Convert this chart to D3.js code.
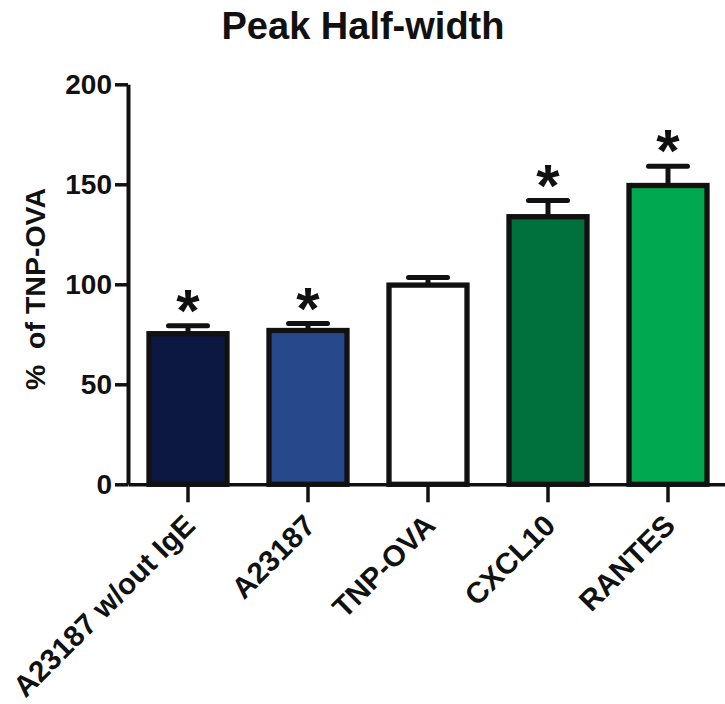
<!DOCTYPE html>
<html>
<head>
<meta charset="utf-8">
<script src="https://cdn.jsdelivr.net/npm/d3@7"></script>
<style>
  html, body { margin: 0; padding: 0; background: #fff; }
  text { font-family: "Liberation Sans", Arial, sans-serif; font-weight: bold; fill: #111; }
</style>
</head>
<body>
<div id="chart"></div>
<script>
const WIDTH = 725
const HEIGHT = 704
const X0 = 128
const X1 = 728
const Y_TOP = 84.3
const Y_BOTTOM = 484.3
const INK = '#111'

const categories = ['A23187 w/out IgE', 'A23187', 'TNP-OVA', 'CXCL10', 'RANTES']
const means = [75.3, 76.9, 99.6, 133.8, 149.4]
const sems = [4.0, 3.5, 3.8, 8.1, 9.6]
const significant = [true, true, false, true, true]
const barColors = ['#0c1742', '#28488c', '#ffffff', '#00703c', '#00a84f']
const yTicks = [0, 50, 100, 150, 200]

const svg = d3.select('#chart').append('svg')
  .attr('width', WIDTH)
  .attr('height', HEIGHT)

const x = d3.scaleBand()
  .domain(categories)
  .range([X0, X1])
  .paddingInner(0.35)
  .paddingOuter(0.175)

const y = d3.scaleLinear()
  .domain([0, 200])
  .range([Y_BOTTOM, Y_TOP])

const rows = categories.map((c, i) => ({
  name: c, mean: means[i], sem: sems[i], star: significant[i], color: barColors[i]
}))

// title
svg.append('text')
  .attr('x', 363)
  .attr('y', 39)
  .attr('text-anchor', 'middle')
  .attr('font-size', '38px')
  .text('Peak Half-width')

// bars
svg.append('g').selectAll('rect')
  .data(rows)
  .enter()
  .append('rect')
  .attr('x', d => x(d.name))
  .attr('y', d => y(d.mean))
  .attr('width', x.bandwidth())
  .attr('height', d => y(0) - y(d.mean))
  .attr('fill', d => d.color)
  .attr('stroke', INK)
  .attr('stroke-width', 5.3)

// error bars (upper only)
const err = svg.append('g')
  .attr('stroke', INK)
  .attr('stroke-width', 5)
  .attr('stroke-linecap', 'round')

err.selectAll('.stem')
  .data(rows)
  .enter()
  .append('line')
  .attr('x1', d => x(d.name) + x.bandwidth() / 2)
  .attr('x2', d => x(d.name) + x.bandwidth() / 2)
  .attr('y1', d => y(d.mean))
  .attr('y2', d => y(d.mean + d.sem))
  .attr('stroke-linecap', 'butt')

err.selectAll('.cap')
  .data(rows)
  .enter()
  .append('line')
  .attr('x1', d => x(d.name) + x.bandwidth() / 2 - 19.5)
  .attr('x2', d => x(d.name) + x.bandwidth() / 2 + 19.5)
  .attr('y1', d => y(d.mean + d.sem))
  .attr('y2', d => y(d.mean + d.sem))

// asterisks
svg.append('g').selectAll('text')
  .data(rows.filter(d => d.star))
  .enter()
  .append('text')
  .attr('x', d => x(d.name) + x.bandwidth() / 2)
  .attr('y', d => y(d.mean + d.sem) + 5)
  .attr('text-anchor', 'middle')
  .attr('font-size', '60px')
  .text('*')

// y axis
const yAxisGroup = svg.append('g')
  .attr('transform', `translate(${X0}, 0)`)
  .call(d3.axisLeft(y).tickValues(yTicks).tickSize(13).tickPadding(3).tickSizeOuter(0))

yAxisGroup.select('.domain').attr('stroke', INK).attr('stroke-width', 4)
yAxisGroup.selectAll('.tick line').attr('stroke', INK).attr('stroke-width', 3.5)
yAxisGroup.selectAll('.tick text')
  .attr('font-size', '28px')
  .attr('font-family', '"Liberation Sans", Arial, sans-serif')
  .attr('font-weight', 'bold')
  .attr('fill', INK)

// x axis
const xAxisGroup = svg.append('g')
  .attr('transform', `translate(0, ${Y_BOTTOM})`)
  .call(d3.axisBottom(x).tickSize(18).tickSizeOuter(0))

xAxisGroup.select('.domain').attr('stroke', INK).attr('stroke-width', 3.5)
xAxisGroup.selectAll('.tick line').attr('stroke', INK).attr('stroke-width', 3.5)
xAxisGroup.selectAll('.tick text').remove()

// rotated category labels
svg.append('g').selectAll('text')
  .data(categories)
  .enter()
  .append('text')
  .attr('text-anchor', 'end')
  .attr('font-size', '29.5px')
  .attr('transform', d => `translate(${x(d) + x.bandwidth() / 2 + 9}, ${Y_BOTTOM + 43}) rotate(-45)`)
  .text(d => d)

// y axis title
svg.append('text')
  .attr('transform', 'translate(45, 289) rotate(-90)')
  .attr('text-anchor', 'middle')
  .attr('font-size', '28.5px')
  .style('white-space', 'pre')
  .text('%  of TNP-OVA')
</script>
</body>
</html>
